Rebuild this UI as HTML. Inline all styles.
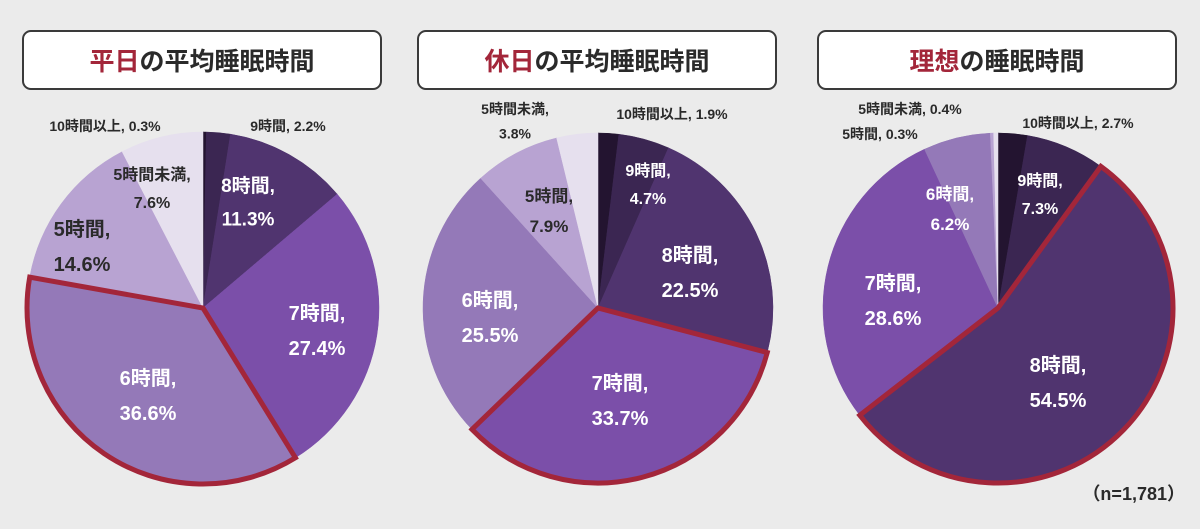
<!DOCTYPE html>
<html><head><meta charset="utf-8">
<style>
body{margin:0;width:1200px;height:524px;background:#ebebeb;overflow:hidden;font-family:"Liberation Sans","Noto Sans CJK JP",sans-serif;}
svg text{font-family:"Liberation Sans","Noto Sans CJK JP",sans-serif;font-weight:bold;}
</style></head>
<body>
<svg id="chart" width="1200" height="524" viewBox="0 0 1200 524" xmlns="http://www.w3.org/2000/svg"></svg>
<script>
const categories = ["10時間以上","9時間","8時間","7時間","6時間","5時間","5時間未満"];
const weekdayValues = [0.3,2.2,11.3,27.4,36.6,14.6,7.6];
const holidayValues = [1.9,4.7,22.5,33.7,25.5,7.9,3.8];
const idealValues = [2.7,7.3,54.5,28.6,6.2,0.3,0.4];
const highlightIndex = [4,3,2];
const titlesAccent = ["平日","休日","理想"];
const titlesRest = ["の平均睡眠時間","の平均睡眠時間","の睡眠時間"];
const sampleNote = "（n=1,781）";

const colors = ["#231430","#3b2652","#50346f","#7b4fa9","#9479b8","#b8a3d2","#e6e0ee"];
const textColors = ["#fff","#fff","#fff","#fff","#fff","#2a2a2a","#2a2a2a"];
const pies = [{cx:203,cy:308,r:176,vals:weekdayValues},{cx:598,cy:308,r:175,vals:holidayValues},{cx:998,cy:308,r:175,vals:idealValues}];
// label layout: [catIndex, x, y, fontSize, split(two-line)]
const labelLayouts = [
 [[0,105,131,14,false],[1,288,131,14,false],[2,248,192,19,true],[3,317,320,20,true],[4,148,385,20,true],[5,82,236,20,true],[6,152,180,16,true]],
 [[6,515,114,14,true],[0,672,119,14,false],[1,648,176,16,true],[2,690,262,20,true],[3,620,390,20,true],[4,490,307,20,true],[5,549,202,17,true]],
 [[6,910,114,14,false],[5,880,139,14,false],[0,1078,128,14,false],[1,1040,186,16,true],[4,950,200,17,true],[3,893,290,20,true],[2,1058,372,20,true]]
];
const NS="http://www.w3.org/2000/svg";
const svg=document.getElementById('chart');
function mk(t,a){const e=document.createElementNS(NS,t);for(const k in a)e.setAttribute(k,a[k]);return e;}
function pt(p,frac){const a=frac*2*Math.PI;return [p.cx+p.r*Math.sin(a),p.cy-p.r*Math.cos(a)];}
function arc(p,s,e){const[x1,y1]=pt(p,s),[x2,y2]=pt(p,e);const large=(e-s)>0.5?1:0;return `M${p.cx},${p.cy}L${x1},${y1}A${p.r},${p.r} 0 ${large} 1 ${x2},${y2}Z`;}
const boxX=[23,418,818];
pies.forEach((p,pi)=>{
  const g=mk('g',{});
  
  
  svg.appendChild(g);
  const box=mk('rect',{x:boxX[pi],y:31,width:358,height:58,rx:8,fill:'#fff',stroke:'#3a3a3a','stroke-width':2});
  
  
  g.appendChild(box);
  const tt=mk('text',{x:boxX[pi]+179,y:70,'text-anchor':'middle','font-size':25,fill:'#2a2a2a'});
  
  
  const ts1=mk('tspan',{fill:'#a3263a'});ts1.textContent=titlesAccent[pi];
  const ts2=mk('tspan',{});ts2.textContent=titlesRest[pi];
  tt.appendChild(ts1);tt.appendChild(ts2);g.appendChild(tt);
  const total=p.vals.reduce((a,b)=>a+b,0);
  let acc=0;const spans=[];
  p.vals.forEach((v,i)=>{
    const s=acc/total,e=(acc+v)/total;acc+=v;spans.push([s,e]);
    const path=mk('path',{d:arc(p,s,e),fill:colors[i],stroke:colors[i],'stroke-width':0.5});
    
    
    g.appendChild(path);
  });
  const h=highlightIndex[pi];
  const hp=mk('path',{d:arc(p,spans[h][0],spans[h][1]),fill:'none',stroke:'#a3263a','stroke-width':5,'stroke-linejoin':'miter'});
  
  
  g.appendChild(hp);
  labelLayouts[pi].forEach(([ci,x,y,fs,split])=>{
    const inside=fs>=16;
    const fill=inside?textColors[ci]:'#2a2a2a';
    const t=mk('text',{x:x,y:y,'text-anchor':'middle','font-size':fs,fill:fill});
    
    
    const val=p.vals[ci].toFixed(1)+'%';
    if(split){
      const a=mk('tspan',{x:x,dy:0});a.textContent=categories[ci]+',';
      const b=mk('tspan',{x:x,dy:fs*1.75});b.textContent=val;
      t.appendChild(a);t.appendChild(b);
    } else t.textContent=categories[ci]+', '+val;
    g.appendChild(t);
  });
});
const n=mk('text',{x:1185,y:500,'text-anchor':'end','font-size':18,fill:'#2a2a2a'});


n.textContent=sampleNote;svg.appendChild(n);
</script>
</body></html>
